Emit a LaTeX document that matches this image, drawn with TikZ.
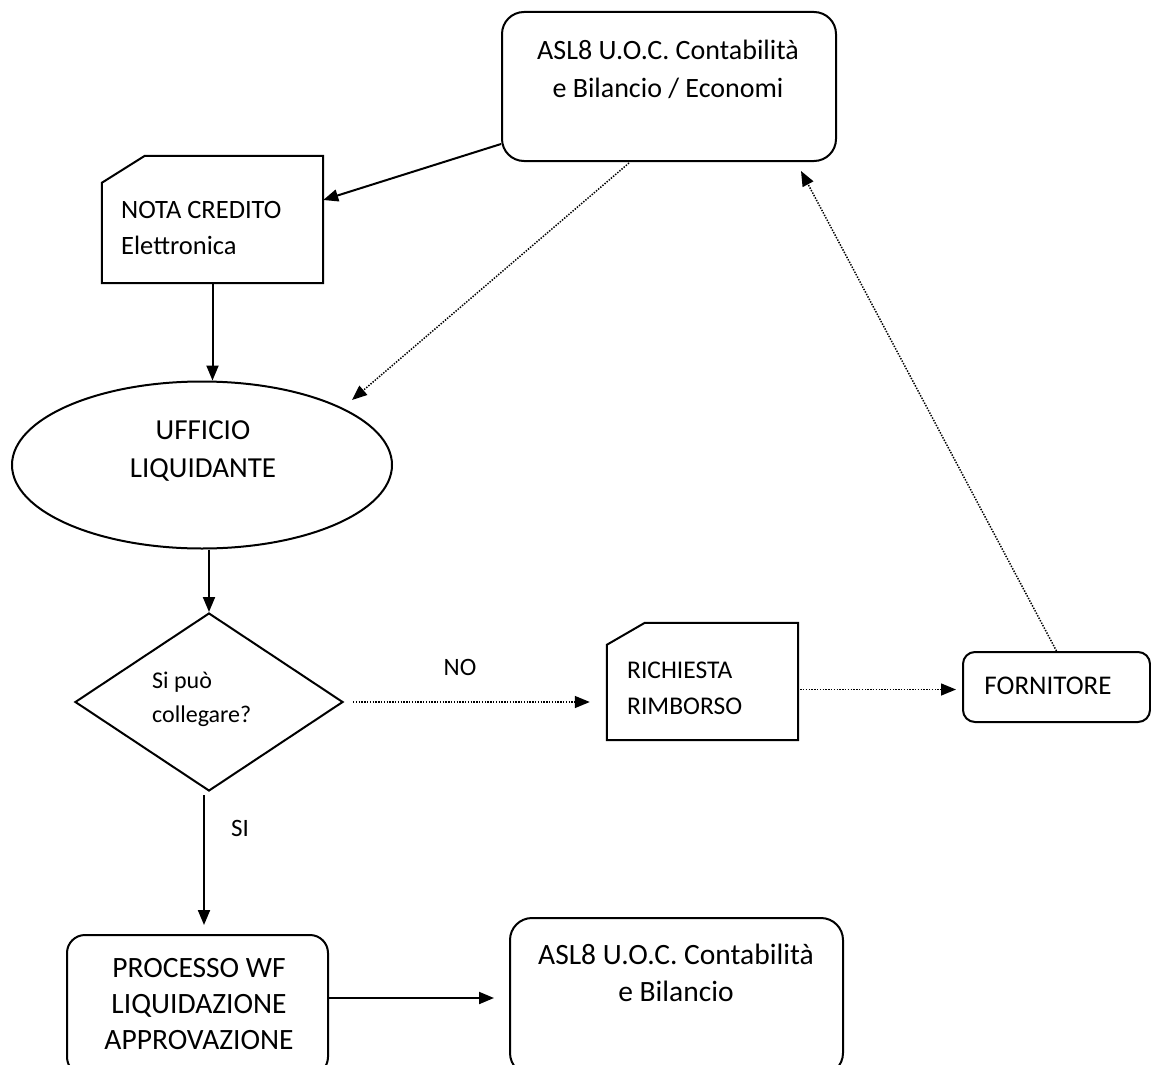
\documentclass[tikz,border=0pt]{standalone}
\usepackage{fontspec}
\setmainfont{Carlito}
\usetikzlibrary{shapes.geometric,arrows.meta,calc}
\tikzset{
  boxline/.style={draw=black, line width=2pt},
  rbox/.style={boxline, rectangle, rounded corners=#1, inner sep=0pt},
  ghost/.style={rectangle, inner sep=0pt},
  lbl/.style={inner sep=0pt, align=center},
  lbll/.style={inner sep=0pt, align=left, anchor=west},
  arr/.style={line width=2pt, -{Triangle[length=15pt,width=12pt]}},
  dotarr/.style={line width=1.5pt, dash pattern=on 1.4pt off 1.4pt, -{Triangle[length=15pt,width=12pt]}},
}
\newcommand{\fs}[2]{\fontsize{#1}{#2}\selectfont}
\begin{document}
\begin{tikzpicture}[x=1pt,y=-1pt]
\useasboundingbox (0,0) rectangle (1151,1065);
\fill[white] (0,0) rectangle (1151,1065);

% top box
\node[rbox=22pt, minimum width=334pt, minimum height=149pt] (top) at (669,86.5) {};
\node[lbl, font=\fs{28}{38}] (toptext) at (668,69) {ASL8 U.O.C. Contabilità\\e Bilancio / Economi};

% nota credito
\node[ghost, minimum width=221pt, minimum height=127pt] (nota) at (212.5,219.5) {};
\draw[boxline] ($(nota.north west)+(0,27)$) -- ($(nota.north west)+(43,0)$) -- (nota.north east) -- (nota.south east) -- (nota.south west) -- cycle;
\node[lbll, font=\fs{26.5}{36}] (notatext) at (121,228) {NOTA CREDITO\\Elettronica};

% ufficio liquidante
\node[boxline, ellipse, minimum width=380pt, minimum height=167pt, inner sep=0pt] (uff) at (202,465) {};
\node[lbl, font=\fs{29}{38}] (ufftext) at (203,451) {UFFICIO\\LIQUIDANTE};

% diamond
\node[boxline, diamond, minimum width=268pt, minimum height=178pt, inner sep=0pt] (dia) at (209,702) {};
\node[lbll, font=\fs{24}{34}] (diatext) at (152,699) {Si può\\collegare?};

% richiesta rimborso
\node[ghost, minimum width=191pt, minimum height=117pt] (ric) at (702.5,681.5) {};
\draw[boxline] ($(ric.north west)+(0,22)$) -- ($(ric.north west)+(38,0)$) -- (ric.north east) -- (ric.south east) -- (ric.south west) -- cycle;
\node[lbll, font=\fs{25.5}{36}] (rictext) at (627,688) {RICHIESTA\\RIMBORSO};

% fornitore
\node[rbox=12pt, minimum width=187pt, minimum height=70pt] (forn) at (1056.5,687) {};
\node[lbl, font=\fs{27}{30}] (forntext) at (1048,686) {FORNITORE};

% processo
\node[rbox=18pt, minimum width=261pt, minimum height=140pt] (proc) at (197.5,1005) {};
\node[lbl, font=\fs{29.5}{36}] (proctext) at (199,1004) {PROCESSO WF\\LIQUIDAZIONE\\APPROVAZIONE};

% bottom ASL8
\node[rbox=22pt, minimum width=333pt, minimum height=157pt] (bot) at (676.5,996.5) {};
\node[lbl, font=\fs{29.5}{37}] (bottext) at (676,973) {ASL8 U.O.C. Contabilità\\e Bilancio};

% labels
\node[lbl, font=\fs{25}{30}] (nolbl) at (460,667) {NO};
\node[lbl, font=\fs{25}{30}] (silbl) at (240,828) {SI};

% connectors
\draw[arr] ($(top.south west)+(0,-18)$) -- ($(nota.east)+(0,-19.5)$);
\draw[dotarr] ($(top.south west)+(128,1)$) -- ($(uff.center)+(150,-65)$);
\draw[arr] (nota.south) -- (nota.south |- uff.north);
\draw[arr] (dia.north |- uff.south) -- (dia.north);
\draw[dotarr, shorten <=9pt, shorten >=17pt] (dia.east) -- (dia.east -| ric.west);
\draw[dotarr, shorten <=2pt, shorten >=6pt] ($(ric.east)+(0,8)$) -- ($(ric.east -| forn.west)+(0,8)$);
\draw[dotarr] (forn.north) -- ($(top.south east)+(-36,9)$);
\draw[arr, shorten <=3pt, shorten >=9pt] ($(dia.south)+(-5,0)$) -- ($(dia.south |- proc.north)+(-5,0)$);
\draw[arr, shorten >=15pt] ($(proc.east)+(0,-7)$) -- ($(proc.east -| bot.west)+(0,-7)$);
\end{tikzpicture}
\end{document}
